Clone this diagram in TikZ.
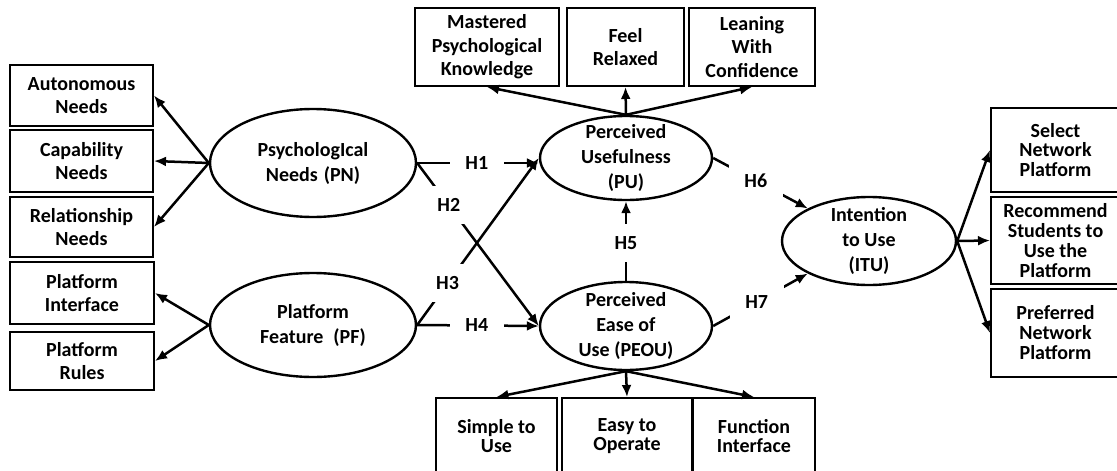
\documentclass[tikz,border=0pt]{standalone}
\usepackage{fontspec}
\setmainfont{Carlito}
\usetikzlibrary{shapes.geometric,arrows.meta}

\tikzset{
  box/.style={draw, line width=2pt, align=center, inner sep=0pt,
    font=\bfseries\fontsize{20}{23.5}\selectfont},
  latent/.style={draw, ellipse, line width=2.4pt, inner sep=0pt},
  lattext/.style={align=center, font=\bfseries\fontsize{20}{25}\selectfont},
  hyp/.style={fill=white, inner sep=0pt, minimum width=54pt, minimum height=38pt,
    font=\bfseries\fontsize{20}{24}\selectfont},
}

\begin{document}
\begin{tikzpicture}[x=1pt, y=-1pt, >={Latex[length=12pt,width=10pt]}, line width=2.5pt]
  \useasboundingbox[fill=white] (0,0) rectangle (1117,471);

  % latent variables
  \node[latent, minimum width=206, minimum height=108,
    label={[lattext]center:PsychologIcal\\Needs\hspace{6pt}(PN)}] (pn) at (313,163) {};
  \node[latent, minimum width=206, minimum height=104,
    label={[lattext]center:Platform\\Feature\hspace{10pt}(PF)}] (pf) at (313,325) {};
  \node[latent, minimum width=172, minimum height=84,
    label={[lattext]center:Perceived\\Usefulness\\(PU)}] (pu) at (626,158) {};
  \node[latent, minimum width=172, minimum height=88,
    label={[lattext]center:Perceived\\Ease of\\Use (PEOU)}] (peou) at (626,326) {};
  \node[latent, minimum width=174, minimum height=88,
    label={[lattext]center:Intention\\to Use\\(ITU)}] (itu) at (869,241) {};

  % left indicators
  \node[box, minimum width=143, minimum height=61] (aut) at (81.5,95.5) {Autonomous\\Needs};
  \node[box, minimum width=143, minimum height=62] (cap) at (81.5,161) {Capability\\Needs};
  \node[box, minimum width=143, minimum height=60] (rel) at (81.5,227) {Relationship\\Needs};
  \node[box, minimum width=144, minimum height=62] (pint) at (82,293) {Platform\\Interface};
  \node[box, minimum width=144, minimum height=58] (prul) at (82,361) {Platform\\Rules};

  % top indicators
  \node[box, minimum width=144, minimum height=78] (mpk) at (487,47) {Mastered\\Psychological\\Knowledge};
  \node[box, minimum width=117, minimum height=78] (rlx) at (625.5,47) {Feel\\Relaxed};
  \node[box, minimum width=126, minimum height=78] (lwc) at (752,47) {Leaning\\With\\Confidence};

  % bottom indicators
  \node[box, minimum width=121, minimum height=76, font=\bfseries\fontsize{20}{19}\selectfont] (stu) at (496.5,436) {Simple to\\Use};
  \node[box, minimum width=130, minimum height=76, font=\bfseries\fontsize{20}{19}\selectfont] (eto) at (627,436) {Easy to\\Operate};
  \node[box, minimum width=122, minimum height=76, font=\bfseries\fontsize{20}{19}\selectfont] (fint) at (754,436) {Function\\Interface};

  % right indicators
  \node[box, minimum width=129, minimum height=84, font=\bfseries\fontsize{20}{19.5}\selectfont] (snp) at (1055.5,150) {Select\\Network\\Platform};
  \node[box, minimum width=129, minimum height=87, font=\bfseries\fontsize{20}{20}\selectfont] (rsu) at (1055.5,240.5) {Recommend\\Students to\\Use the\\Platform};
  \node[box, minimum width=129, minimum height=88, font=\bfseries\fontsize{20}{20}\selectfont] (pnp) at (1055.5,333) {Preferred\\Network\\Platform};

  % indicator arrows
  \path[draw, ->] (pn.west) -- (aut.east);
  \path[draw, ->] (pn.west) -- (cap.east);
  \path[draw, ->] (pn.west) -- (rel.east);
  \path[draw, ->] (pf.west) -- (pint.east);
  \path[draw, ->] (pf.west) -- (prul.east);
  \path[draw, ->] (pu.north) -- (mpk.south);
  \path[draw, ->] (pu.north) -- (rlx.south);
  \path[draw, ->] (pu.north) -- (lwc.south);
  \path[draw, ->] (peou.south) -- (stu.north);
  \path[draw, ->] (peou.south) -- (eto.north);
  \path[draw, ->] (peou.south) -- (fint.north);
  \path[draw, ->] (itu.east) -- (snp.west);
  \path[draw, ->] (itu.east) -- (rsu.west);
  \path[draw, ->] (itu.east) -- (pnp.west);

  % hypotheses
  \path[draw, ->] (pn.east) -- node[hyp, pos=0.49] {H1} (pu.west |- pn.east);
  \path[draw, ->] (pn.east) -- node[hyp, pos=0.26] {H2} (peou.west);
  \path[draw, ->] (pf.east) -- node[hyp, pos=0.25] {H3} (pu.west);
  \path[draw, ->] (pf.east) -- node[hyp, pos=0.49] {H4} (peou.west);
  \path[draw, ->] (peou.north) -- node[hyp, pos=0.47] {H5} (pu.south);
  \path[draw, ->] (pu.east) -- node[hyp, pos=0.45] {H6} (itu.152);
  \path[draw, ->] (peou.east) -- node[hyp, pos=0.46] {H7} (itu.208);
\end{tikzpicture}
\end{document}
